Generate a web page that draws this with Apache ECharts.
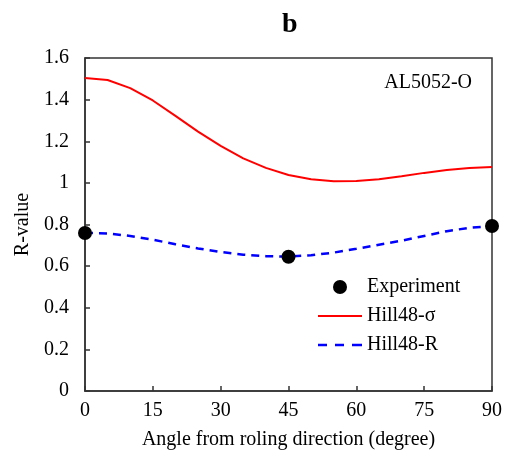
<!DOCTYPE html>
<html><head><meta charset="utf-8">
<script src="https://cdn.jsdelivr.net/npm/echarts@6/dist/echarts.min.js"></script>
<style>html,body{margin:0;padding:0;background:#fff}#c{width:510px;height:450px}</style>
</head><body><div id="c"></div>
<script>
const angles = [0,5,10,15,20,25,30,35,40,45,50,55,60,65,70,75,80,85,90];
const hillSigma = [1.504,1.494,1.455,1.396,1.322,1.246,1.178,1.118,1.072,1.038,1.017,1.008,1.009,1.017,1.032,1.048,1.062,1.072,1.076];
const hillR = [0.760,0.757,0.745,0.727,0.705,0.685,0.668,0.655,0.648,0.646,0.652,0.665,0.683,0.703,0.722,0.745,0.768,0.784,0.793];
const expAngles = [0,45,90];
const expR = [0.759,0.645,0.793];
const seriesNames = ['Experiment','Hill48-σ','Hill48-R'];
const xTicks = {min:0,max:90,interval:15};
const yTicks = {min:0,max:1.6,interval:0.2};
const FONT = '"Liberation Serif", "Times New Roman", serif';

const solidIcon = 'path://M0,0h44v2h-44z';
const dashIcon = 'path://M0,0h9v2.5h-9zM17,0h9v2.5h-9zM34,0h10v2.5h-10z';

const chart = echarts.init(document.getElementById('c'));
chart.setOption({
  animation:false,
  backgroundColor:'#fff',
  title:{text:'b',left:277,top:6,textStyle:{fontFamily:FONT,fontSize:28,fontWeight:'bold',color:'#000'}},
  grid:{left:85,right:18,top:58,bottom:59,show:true,borderColor:'#333',borderWidth:1.5,backgroundColor:'transparent',
    containLabel:false,outerBoundsMode:'none'},
  legend:{
    orient:'vertical',left:313,top:272,itemWidth:44,itemHeight:14,itemGap:9,symbolKeepAspect:true,
    data:[
      {name:seriesNames[0],icon:'circle'},
      {name:seriesNames[1],icon:solidIcon},
      {name:seriesNames[2],icon:dashIcon}
    ],
    textStyle:{fontFamily:FONT,fontSize:20,color:'#000'}
  },
  graphic:[{type:'text',right:38,top:73,style:{text:'AL5052-O',fontFamily:FONT,fontSize:20,fill:'#000'}}],
  xAxis:{type:'value',min:xTicks.min,max:xTicks.max,interval:xTicks.interval,
    name:'Angle from roling direction (degree)',nameLocation:'middle',nameGap:39,
    nameTextStyle:{fontFamily:FONT,fontSize:20,color:'#000'},
    axisLine:{lineStyle:{color:'#333',width:1.5}},
    axisTick:{inside:true,length:5,lineStyle:{color:'#333',width:1.5}},
    axisLabel:{fontFamily:FONT,fontSize:20,color:'#000',margin:10},
    splitLine:{show:false}},
  yAxis:{type:'value',min:yTicks.min,max:yTicks.max,interval:yTicks.interval,
    name:'R-value',nameLocation:'middle',nameGap:51,
    nameTextStyle:{fontFamily:FONT,fontSize:20,color:'#000'},
    axisLine:{show:true,lineStyle:{color:'#333',width:1.5}},
    axisTick:{show:true,inside:true,length:5,lineStyle:{color:'#333',width:1.5}},
    axisLabel:{fontFamily:FONT,fontSize:20,color:'#000',margin:16},
    splitLine:{show:false}},
  series:[
    {name:seriesNames[1],type:'line',data:angles.map((a,i)=>[a,hillSigma[i]]),symbol:'none',smooth:false,
      lineStyle:{color:'#ff0000',width:2},itemStyle:{color:'#ff0000'},z:2},
    {name:seriesNames[2],type:'line',data:angles.map((a,i)=>[a,hillR[i]]),symbol:'none',smooth:false,
      lineStyle:{color:'#0000ff',width:2.5,type:[8,6]},itemStyle:{color:'#0000ff'},z:2},
    {name:seriesNames[0],type:'scatter',data:expAngles.map((a,i)=>[a,expR[i]]),symbol:'circle',symbolSize:14,
      itemStyle:{color:'#000',opacity:1},z:5}
  ]
});
</script></body></html>
